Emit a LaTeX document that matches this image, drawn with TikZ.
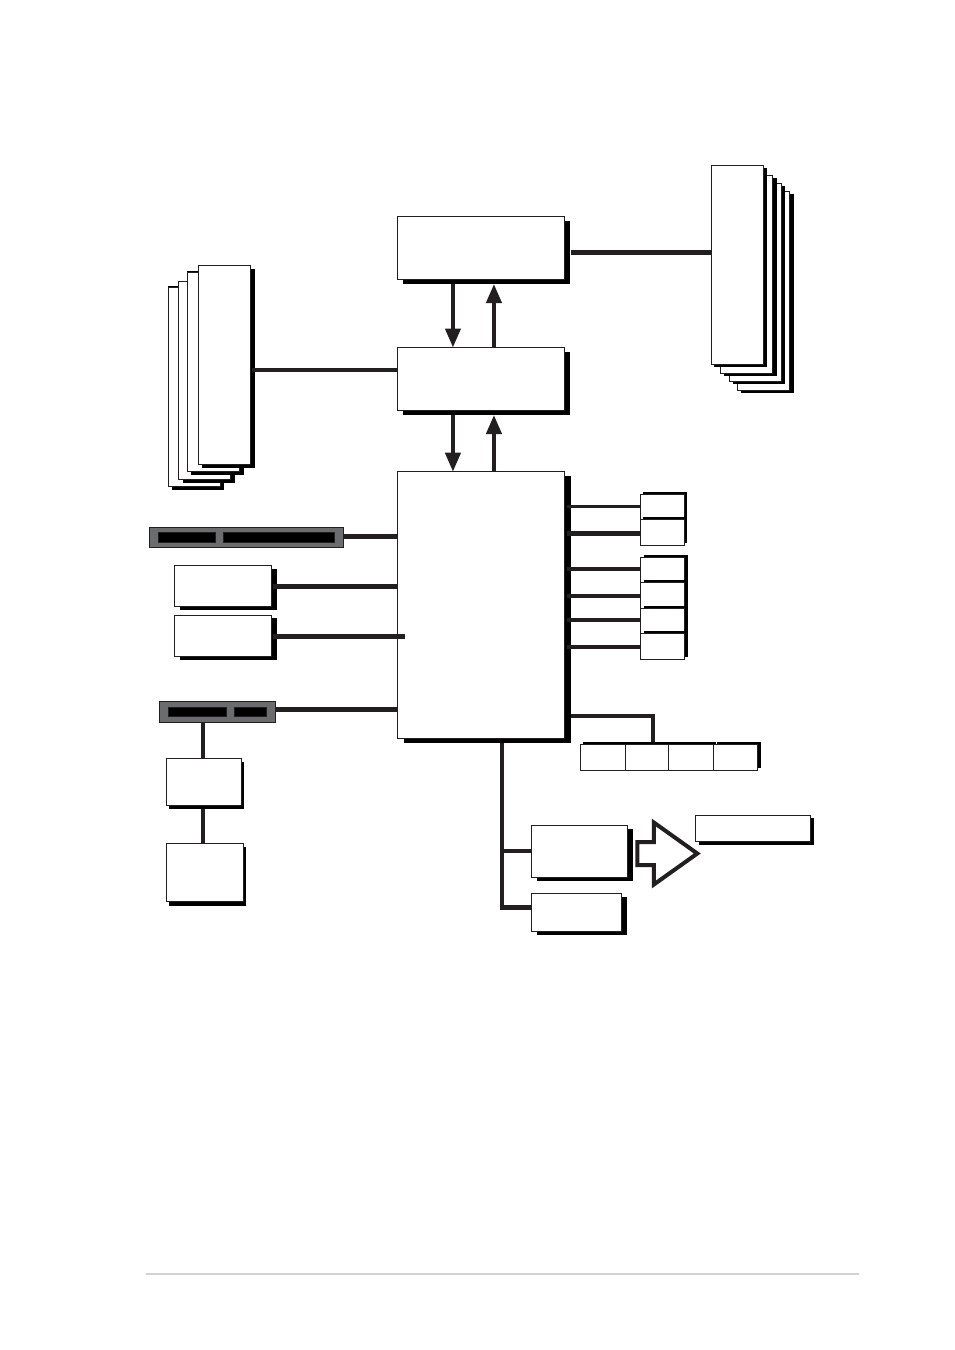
\documentclass[tikz,border=0pt]{standalone}
\usepackage{xcolor}
\usetikzlibrary{arrows.meta, positioning, shadows, shapes.arrows}
\definecolor{ink}{HTML}{231F20}
\definecolor{slotgray}{HTML}{6B6C6E}
\definecolor{footgray}{HTML}{D2D2D2}

\begin{document}
\begin{tikzpicture}[
    x=1pt, y=-1pt,
    lift/.style 2 args={general shadow={shadow xshift=#1pt, shadow yshift=#2pt, fill=black}},
    box/.style={draw=ink, fill=white, line width=0.85pt, anchor=north west, inner sep=0pt, outer sep=0pt},
    slot/.style={draw=ink, fill=slotgray, line width=0.85pt, anchor=north west, inner sep=0pt, outer sep=0pt},
    gap/.style={draw=ink, fill=black, line width=0.6pt, anchor=north west, inner sep=0pt, outer sep=0pt},
    bus/.style={draw=ink, line width=4pt},
    flow/.style={draw=ink, line width=4pt, -{Triangle[length=19pt, width=15pt]}}
]
    \useasboundingbox (0,0) rectangle (954,1350);
    \fill[white] (0,0) rectangle (954,1350);

    % centre column
    \node[box, lift={6}{-4}, minimum width=166.7pt, minimum height=63pt] (hub) at (397.3,216.5) {};
    \node[box, lift={6}{-4}, minimum width=166.7pt, minimum height=63pt] (bridge) at (397.3,347.5) {};
    \node[box, lift={7}{-4}, minimum width=166.7pt, minimum height=267pt] (south) at (397.3,471.7) {};

    % stack on the right
    \node[box, lift={4.4}{-3}, minimum width=52.4pt, minimum height=199pt] (bankd) at (737,191) {};
    \node[box, lift={4}{-3}, minimum width=52.4pt, minimum height=198pt] (bankc) at (729,183.3) {};
    \node[box, lift={4.4}{-3}, minimum width=52.4pt, minimum height=198.3pt] (bankb) at (720,175) {};
    \node[box, lift={3}{-3}, minimum width=52.4pt, minimum height=199pt] (banka) at (711.3,165.3) {};

    % stack on the left
    \node[box, lift={3.5}{-3.4}, lift={0}{1.4}, minimum width=52.4pt, minimum height=199pt] (cardd) at (168.3,287.3) {};
    \node[box, lift={4.2}{-3.6}, minimum width=52.4pt, minimum height=198pt] (cardc) at (178.3,281) {};
    \node[box, lift={4}{-3.6}, lift={0}{1.4}, minimum width=52.4pt, minimum height=198.6pt] (cardb) at (187.3,272.7) {};
    \node[box, lift={4}{-3.4}, minimum width=52.4pt, minimum height=199pt] (carda) at (198.3,265.3) {};

    % left side of the lower block
    \node[slot, minimum width=194.7pt, minimum height=20.4pt] (slotlong) at (149,527.3) {};
    \node[gap, minimum width=57.7pt, minimum height=9.7pt] (slotlonga) at (158,532.3) {};
    \node[gap, minimum width=111.7pt, minimum height=9.7pt] (slotlongb) at (223,532.3) {};
    \node[box, lift={5.3}{-3}, minimum width=97.4pt, minimum height=41pt] (lana) at (174.3,565.7) {};
    \node[box, lift={5.3}{-3}, minimum width=97.4pt, minimum height=41.4pt] (lanb) at (174.3,615.3) {};
    \node[slot, minimum width=116.4pt, minimum height=21pt] (slotshort) at (159.3,701.3) {};
    \node[gap, minimum width=58.4pt, minimum height=9.4pt] (slotshorta) at (168.3,707.3) {};
    \node[gap, minimum width=32.4pt, minimum height=9.4pt] (slotshortb) at (234.3,707.3) {};
    \node[box, lift={2.5}{-4}, minimum width=75.4pt, minimum height=47pt] (audio) at (166.3,758.3) {};
    \node[box, lift={2.5}{-4}, minimum width=77.4pt, minimum height=58.4pt] (codec) at (166.3,843.3) {};

    % ports on the right
    \node[box, lift={2.5}{2}, minimum width=44.7pt, minimum height=24.7pt] (porta) at (640,494.3) {};
    \node[box, lift={2.5}{2}, minimum width=44.7pt, minimum height=26.3pt] (portb) at (640,519) {};
    \node[box, lift={3.3}{2}, minimum width=44.4pt, minimum height=25pt] (usba) at (640.3,557.3) {};
    \node[box, lift={3.3}{2}, minimum width=44.4pt, minimum height=25.7pt] (usbb) at (640.3,582.3) {};
    \node[box, lift={3.3}{2}, minimum width=44.4pt, minimum height=25.3pt] (usbc) at (640.3,608) {};
    \node[box, lift={3.3}{2}, minimum width=44.4pt, minimum height=26pt] (usbd) at (640.3,633.3) {};
    \node[box, lift={3}{2}, minimum width=45.4pt, minimum height=26pt] (rowa) at (580.3,744.3) {};
    \node[box, lift={3}{2}, minimum width=42.6pt, minimum height=26pt] (rowb) at (625.7,744.3) {};
    \node[box, lift={3}{2}, minimum width=45pt, minimum height=26pt] (rowc) at (668.3,744.3) {};
    \node[box, lift={3.3}{2}, minimum width=44.4pt, minimum height=26pt] (rowd) at (713.3,744.3) {};

    % bottom right
    \node[box, lift={5.3}{-3.4}, minimum width=96.4pt, minimum height=52pt] (superio) at (531.3,825.3) {};
    \node[box, lift={5.3}{-3.4}, minimum width=90.4pt, minimum height=38pt] (flash) at (531.3,893.3) {};
    \node[box, lift={3.3}{-3}, minimum width=115.4pt, minimum height=26.4pt] (legacy) at (695.3,815.3) {};
    \node[draw=ink, fill=white, line width=4pt, single arrow, anchor=tail, inner sep=0pt, outer sep=0pt,
        text height=9.5pt, text depth=9.5pt, minimum height=60pt, single arrow head extend=19.5pt,
        single arrow tip angle=71, single arrow head indent=0pt] (blockarrow) at (637.3,853.5) {};

    % arrows in the centre column
    \draw[flow, shorten <=4pt] ([xshift=-27.7pt]hub.south) -- ([xshift=-27.7pt]hub.south |- bridge.north);
    \draw[flow, shorten >=4.5pt] ([xshift=13.3pt]bridge.north) -- ([xshift=13.3pt]bridge.north |- hub.south);
    \draw[flow, shorten <=4pt] ([xshift=-27.7pt]bridge.south) -- ([xshift=-27.7pt]bridge.south |- south.north);
    \draw[flow, shorten >=4.5pt] ([xshift=13.3pt]south.north) -- ([xshift=13.3pt]south.north |- bridge.south);

    \draw[bus, line width=5pt] ([xshift=6.5pt, yshift=-4.3pt]hub.east) -- ([yshift=-4.3pt]hub.east -| banka.west);
    \draw[bus] ([xshift=1.5pt, yshift=9.3pt]bridge.west -| carda.east) -- ([yshift=9.3pt]bridge.west);

    % into the lower block
    \draw[bus, line width=5pt] ([yshift=1.2pt]slotlong.east) -- ([yshift=1.2pt]slotlong.east -| south.west);
    \draw[bus, line width=5pt] ([xshift=1.5pt]lana.east) -- (lana.east -| south.west);
    \draw[bus, line width=5pt] ([xshift=1.5pt]lanb.east) -- ([xshift=8pt]lanb.east -| south.west);
    \draw[bus, line width=5pt] ([yshift=2.5pt]slotshort.east) -- ([yshift=2.5pt]slotshort.east -| south.west);
    \draw[bus] ([xshift=-1pt]audio.north) -- ([xshift=-1pt]audio.north |- slotshort.south);
    \draw[bus, shorten <=4pt] ([xshift=-1pt]audio.south) -- ([xshift=-1pt]audio.south |- codec.north);

    \draw[bus, line width=3.5pt] (porta.west) -- ([xshift=3pt]porta.west -| south.east);
    \draw[bus, line width=5pt] ([yshift=-1.2pt]portb.west) -- ([xshift=3pt, yshift=-1.2pt]portb.west -| south.east);
    \draw[bus] ([yshift=0.8pt]usba.west) -- ([xshift=3pt, yshift=0.8pt]usba.west -| south.east);
    \draw[bus] ([yshift=-1pt]usbb.west) -- ([xshift=3pt, yshift=-1pt]usbb.west -| south.east);
    \draw[bus] ([yshift=0.7pt]usbc.west) -- ([xshift=3pt, yshift=0.7pt]usbc.west -| south.east);
    \draw[bus] ([yshift=-0.7pt]usbd.west) -- ([xshift=3pt, yshift=-0.7pt]usbd.west -| south.east);

    \draw[bus, shorten >=2pt] ([xshift=7pt, yshift=-110.8pt]south.east) -| ([xshift=6pt]rowb.north);
    \draw[bus, shorten <=4pt, shorten >=-2.5pt] ([xshift=21.4pt]south.south) -- ([xshift=21.4pt, yshift=5pt]flash.west -| south.south);
    \draw[bus, line width=5pt] ([yshift=5pt]flash.west) -- ([xshift=21.4pt, yshift=5pt]flash.west -| south.south);
    \draw[bus] (superio.west) -- ([xshift=21.4pt]superio.west -| south.south);

    % page rule
    \coordinate (rulea) at (146,1274);
    \coordinate (ruleb) at (859,1274);
    \draw[footgray, line width=1.5pt] (rulea) -- (ruleb);
\end{tikzpicture}
\end{document}
